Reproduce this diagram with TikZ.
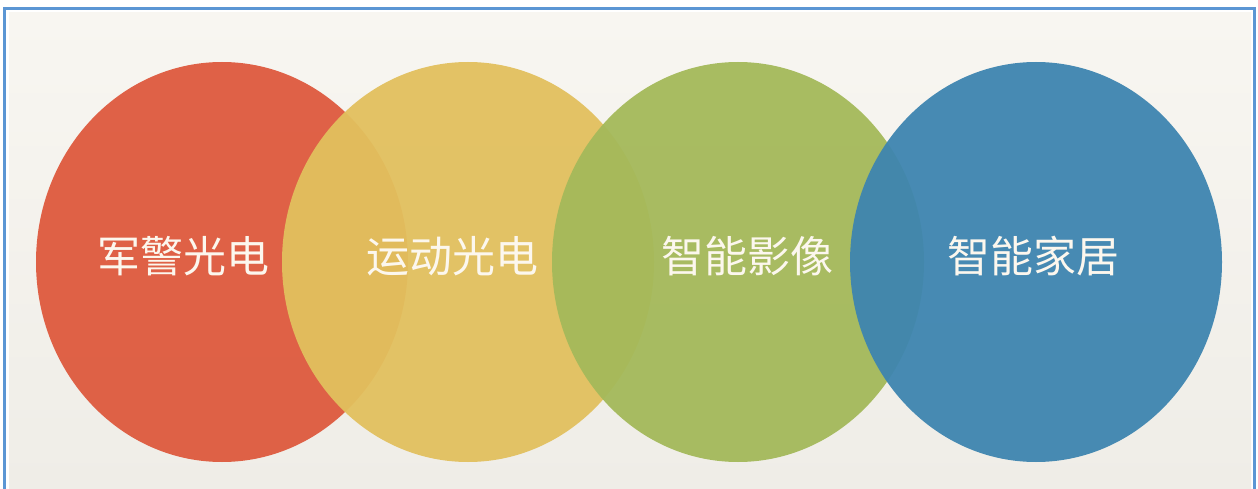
\documentclass[tikz,border=0pt]{standalone}
\usepackage{fontspec}
\newfontfamily\cjk{Noto Sans CJK SC}
\usetikzlibrary{shapes.geometric}
\definecolor{cred}{RGB}{222,90,62}
\definecolor{cyellow}{RGB}{226,192,94}
\definecolor{cgreen}{RGB}{164,185,90}
\definecolor{cblue}{RGB}{62,133,176}
\definecolor{bgtop}{RGB}{248,246,241}
\definecolor{bgbot}{RGB}{239,237,231}
\definecolor{frame}{RGB}{91,150,212}
\definecolor{txt}{RGB}{252,247,238}
\tikzset{
  disc/.style={ellipse, minimum width=372pt, minimum height=400pt, inner sep=0pt, draw=none, fill opacity=0.95},
  label/.style={text=txt, font=\cjk\fontsize{43}{43}\selectfont, inner sep=0pt}
}
\begin{document}
\begin{tikzpicture}[x=1pt,y=-1pt]
\useasboundingbox (0,0) rectangle (1258,489);
\fill[white] (0,0) rectangle (1258,489);
\shade[top color=bgtop, bottom color=bgbot] (9,13) rectangle (1251,489);
\draw[frame, line width=3pt] (4.5,8.5) rectangle (1254.5,500);
\node[disc, fill=cred] (red) at (222,262) {};
\node[disc, fill=cyellow] (yellow) at (468,262) {};
\node[disc, fill=cgreen] (green) at (738,262) {};
\node[disc, fill=cblue] (blue) at (1036,262) {};
\node[label] (t1) at (183,256) {军警光电};
\node[label] (t2) at (452,256) {运动光电};
\node[label] (t3) at (747,256) {智能影像};
\node[label] (t4) at (1033,256) {智能家居};
\end{tikzpicture}
\end{document}
